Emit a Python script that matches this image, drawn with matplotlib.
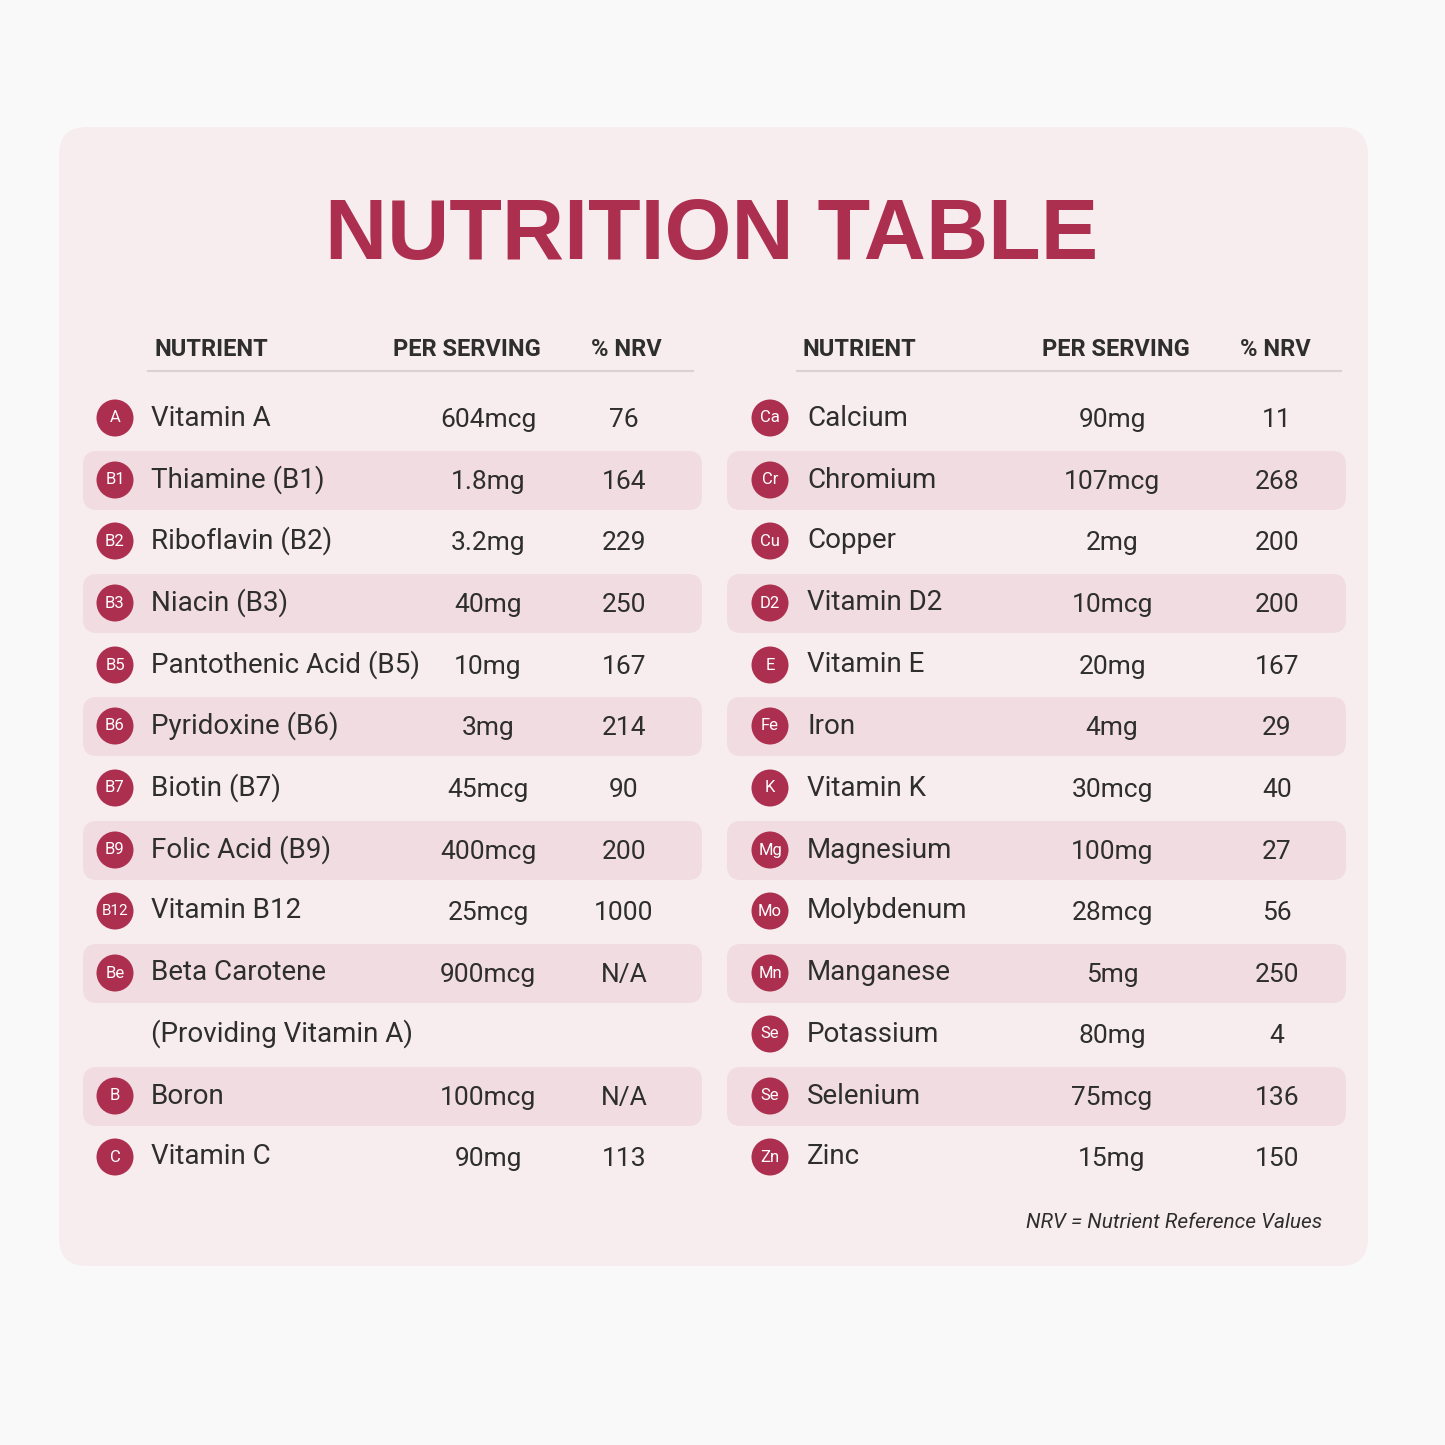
import matplotlib
matplotlib.use("Agg")
import matplotlib.pyplot as plt
from matplotlib.patches import FancyBboxPatch, Circle

plt.rcParams['font.family'] = ['Roboto', 'DejaVu Sans']

left_icons = ["A","B1","B2","B3","B5","B6","B7","B9","B12","Be","","B","C"]
left_names = ["Vitamin A","Thiamine (B1)","Riboflavin (B2)","Niacin (B3)","Pantothenic Acid (B5)",
              "Pyridoxine (B6)","Biotin (B7)","Folic Acid (B9)","Vitamin B12","Beta Carotene",
              "(Providing Vitamin A)","Boron","Vitamin C"]
left_amounts = ["604mcg","1.8mg","3.2mg","40mg","10mg","3mg","45mcg","400mcg","25mcg","900mcg","","100mcg","90mg"]
left_nrv = ["76","164","229","250","167","214","90","200","1000","N/A","","N/A","113"]
left_shaded = [False,True,False,True,False,True,False,True,False,True,False,True,False]

right_icons = ["Ca","Cr","Cu","D2","E","Fe","K","Mg","Mo","Mn","Se","Se","Zn"]
right_names = ["Calcium","Chromium","Copper","Vitamin D2","Vitamin E","Iron","Vitamin K","Magnesium",
               "Molybdenum","Manganese","Potassium","Selenium","Zinc"]
right_amounts = ["90mg","107mcg","2mg","10mcg","20mg","4mg","30mcg","100mg","28mcg","5mg","80mg","75mcg","15mg"]
right_nrv = ["11","268","200","200","167","29","40","27","56","250","4","136","150"]
right_shaded = [False,True,False,True,False,True,False,True,False,True,False,True,False]

row_y = [418,480,541,603,665,726,788,850,911,973,1034,1096,1157]

RED = "#ad2f4f"
TXT = "#2e2e2e"
fig = plt.figure(figsize=(14.45,14.45), dpi=100, facecolor="#f9f9f9")
ax = fig.add_axes([0,0,1,1])
ax.set_xlim(0,1445); ax.set_ylim(1445,0); ax.axis("off")

ax.add_patch(FancyBboxPatch((59,127),1309,1139,boxstyle="round,pad=0,rounding_size=28",
                            fc="#f7ecee", ec="none"))
ax.text(712,237,"NUTRITION TABLE",ha="center",va="center",fontsize=62,fontweight="bold",
        color=RED,family=['Liberation Sans','DejaVu Sans'])

def column(x0,x1,name_x,amt_x,nrv_x,circ_x,hdr,icons,names,amts,nrvs,shaded):
    for hx,t in zip(hdr[:3],["NUTRIENT","PER SERVING","% NRV"]):
        ax.text(hx,349,t,fontsize=17,fontweight="bold",color=TXT,va="center")
    ax.plot([hdr[3],hdr[4]],[371,371],color="#d8d2d4",lw=1.5)
    for y,ic,n,a,v,s in zip(row_y,icons,names,amts,nrvs,shaded):
        if s:
            ax.add_patch(FancyBboxPatch((x0,y-29),x1-x0,59,boxstyle="round,pad=0,rounding_size=14",
                                        fc="#f0dce1",ec="none"))
        if ic:
            ax.add_patch(Circle((circ_x,y),18.5,fc=RED,ec="none"))
            ax.text(circ_x,y,ic,ha="center",va="center",fontsize=12 if len(ic)<3 else 11,color="white")
        ax.text(name_x,y,n,ha="left",va="center",fontsize=20,color=TXT)
        ax.text(amt_x,y+2,a,ha="center",va="center",fontsize=19,color=TXT)
        ax.text(nrv_x,y+2,v,ha="center",va="center",fontsize=19,color=TXT)

column(83,702,151,488,624,115,(155,393,591,148,693),left_icons,left_names,left_amounts,left_nrv,left_shaded)
column(727,1346,807,1112,1277,770,(803,1042,1240,797,1341),right_icons,right_names,right_amounts,right_nrv,right_shaded)

ax.text(1322,1223,"NRV = Nutrient Reference Values",ha="right",va="center",fontsize=15,
        style="italic",color=TXT)
fig.savefig("out.png",dpi=100,facecolor=fig.get_facecolor())
